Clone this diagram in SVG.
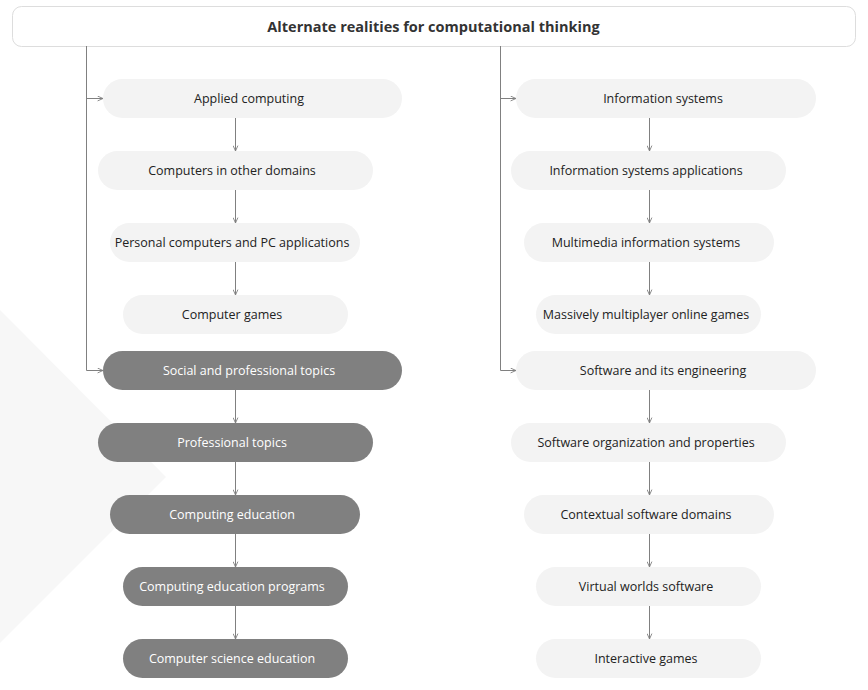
<svg xmlns="http://www.w3.org/2000/svg" width="868" height="690" viewBox="0 0 868 690">
<style>
.bg{fill:#f7f7f7}
.title{fill:#ffffff;stroke:#dddddd;stroke-width:1}
.tt{font-family:"Open Sans","Noto Sans",sans-serif;font-size:14.5px;font-weight:bold;fill:#333333;text-anchor:middle;dominant-baseline:central}
.ln rect{fill:#f3f3f3}
.dn rect{fill:#808080}
.ln text,.dn text{font-family:"Open Sans","Noto Sans",sans-serif;font-size:12.5px;text-anchor:middle;dominant-baseline:central}
.ln text{fill:#222222}
.dn text{fill:#ffffff}
.c{fill:none;stroke:#808080;stroke-width:1}
</style>
<defs>
<marker id="ah" viewBox="0 0 10 10" refX="10" refY="5" markerWidth="6" markerHeight="6" orient="auto" markerUnits="userSpaceOnUse">
<path d="M1,1 L10,5 L1,9" fill="none" stroke="#808080" stroke-width="1.5"/>
</marker>
</defs>
<polygon class="bg" points="0,310 166,477 0,643"/>
<g id="title">
<rect class="title" x="12.5" y="6.5" width="843" height="40" rx="9"/>
<text class="tt" x="433.5" y="26">Alternate realities for computational thinking</text>
</g>
<g id="connectors">
<path class="c" d="M86.5,46 V370.5 H103" marker-end="url(#ah)"/>
<path class="c" d="M86.5,98.5 H103" marker-end="url(#ah)"/>
<path class="c" d="M500.5,46 V370.5 H516" marker-end="url(#ah)"/>
<path class="c" d="M500.5,98.5 H516" marker-end="url(#ah)"/>
<path class="c" d="M235.5,118 V151" marker-end="url(#ah)"/>
<path class="c" d="M235.5,190 V223" marker-end="url(#ah)"/>
<path class="c" d="M235.5,262 V295" marker-end="url(#ah)"/>
<path class="c" d="M235.5,390 V423" marker-end="url(#ah)"/>
<path class="c" d="M235.5,462 V495" marker-end="url(#ah)"/>
<path class="c" d="M235.5,534 V567" marker-end="url(#ah)"/>
<path class="c" d="M235.5,606 V639" marker-end="url(#ah)"/>
<path class="c" d="M649.5,118 V151" marker-end="url(#ah)"/>
<path class="c" d="M649.5,190 V223" marker-end="url(#ah)"/>
<path class="c" d="M649.5,262 V295" marker-end="url(#ah)"/>
<path class="c" d="M649.5,390 V423" marker-end="url(#ah)"/>
<path class="c" d="M649.5,462 V495" marker-end="url(#ah)"/>
<path class="c" d="M649.5,534 V567" marker-end="url(#ah)"/>
<path class="c" d="M649.5,606 V639" marker-end="url(#ah)"/>
</g>
<g id="applied-computing" class="ln"><rect x="103" y="79" width="299" height="39" rx="19.5"/><text x="249" y="98.5">Applied computing</text></g>
<g id="computers-other-domains" class="ln"><rect x="98" y="151" width="275" height="39" rx="19.5"/><text x="232" y="170.5">Computers in other domains</text></g>
<g id="personal-computers" class="ln"><rect x="110" y="223" width="250" height="39" rx="19.5"/><text x="232" y="242.5">Personal computers and PC applications</text></g>
<g id="computer-games" class="ln"><rect x="123" y="295" width="225" height="39" rx="19.5"/><text x="232" y="314.5">Computer games</text></g>
<g id="social-professional" class="dn"><rect x="103" y="351" width="299" height="39" rx="19.5"/><text x="249" y="370.5">Social and professional topics</text></g>
<g id="professional-topics" class="dn"><rect x="98" y="423" width="275" height="39" rx="19.5"/><text x="232" y="442.5">Professional topics</text></g>
<g id="computing-education" class="dn"><rect x="110" y="495" width="250" height="39" rx="19.5"/><text x="232" y="514.5">Computing education</text></g>
<g id="computing-education-programs" class="dn"><rect x="123" y="567" width="225" height="39" rx="19.5"/><text x="232" y="586.5">Computing education programs</text></g>
<g id="cs-education" class="dn"><rect x="123" y="639" width="225" height="39" rx="19.5"/><text x="232" y="658.5">Computer science education</text></g>
<g id="information-systems" class="ln"><rect x="516" y="79" width="300" height="39" rx="19.5"/><text x="663" y="98.5">Information systems</text></g>
<g id="is-applications" class="ln"><rect x="511" y="151" width="275" height="39" rx="19.5"/><text x="646" y="170.5">Information systems applications</text></g>
<g id="multimedia-is" class="ln"><rect x="524" y="223" width="250" height="39" rx="19.5"/><text x="646" y="242.5">Multimedia information systems</text></g>
<g id="mmog" class="ln"><rect x="536" y="295" width="225" height="39" rx="19.5"/><text x="646" y="314.5">Massively multiplayer online games</text></g>
<g id="software-engineering" class="ln"><rect x="516" y="351" width="300" height="39" rx="19.5"/><text x="663" y="370.5">Software and its engineering</text></g>
<g id="software-organization" class="ln"><rect x="511" y="423" width="275" height="39" rx="19.5"/><text x="646" y="442.5">Software organization and properties</text></g>
<g id="contextual-software" class="ln"><rect x="524" y="495" width="250" height="39" rx="19.5"/><text x="646" y="514.5">Contextual software domains</text></g>
<g id="virtual-worlds" class="ln"><rect x="536" y="567" width="225" height="39" rx="19.5"/><text x="646" y="586.5">Virtual worlds software</text></g>
<g id="interactive-games" class="ln"><rect x="536" y="639" width="225" height="39" rx="19.5"/><text x="646" y="658.5">Interactive games</text></g>
</svg>
